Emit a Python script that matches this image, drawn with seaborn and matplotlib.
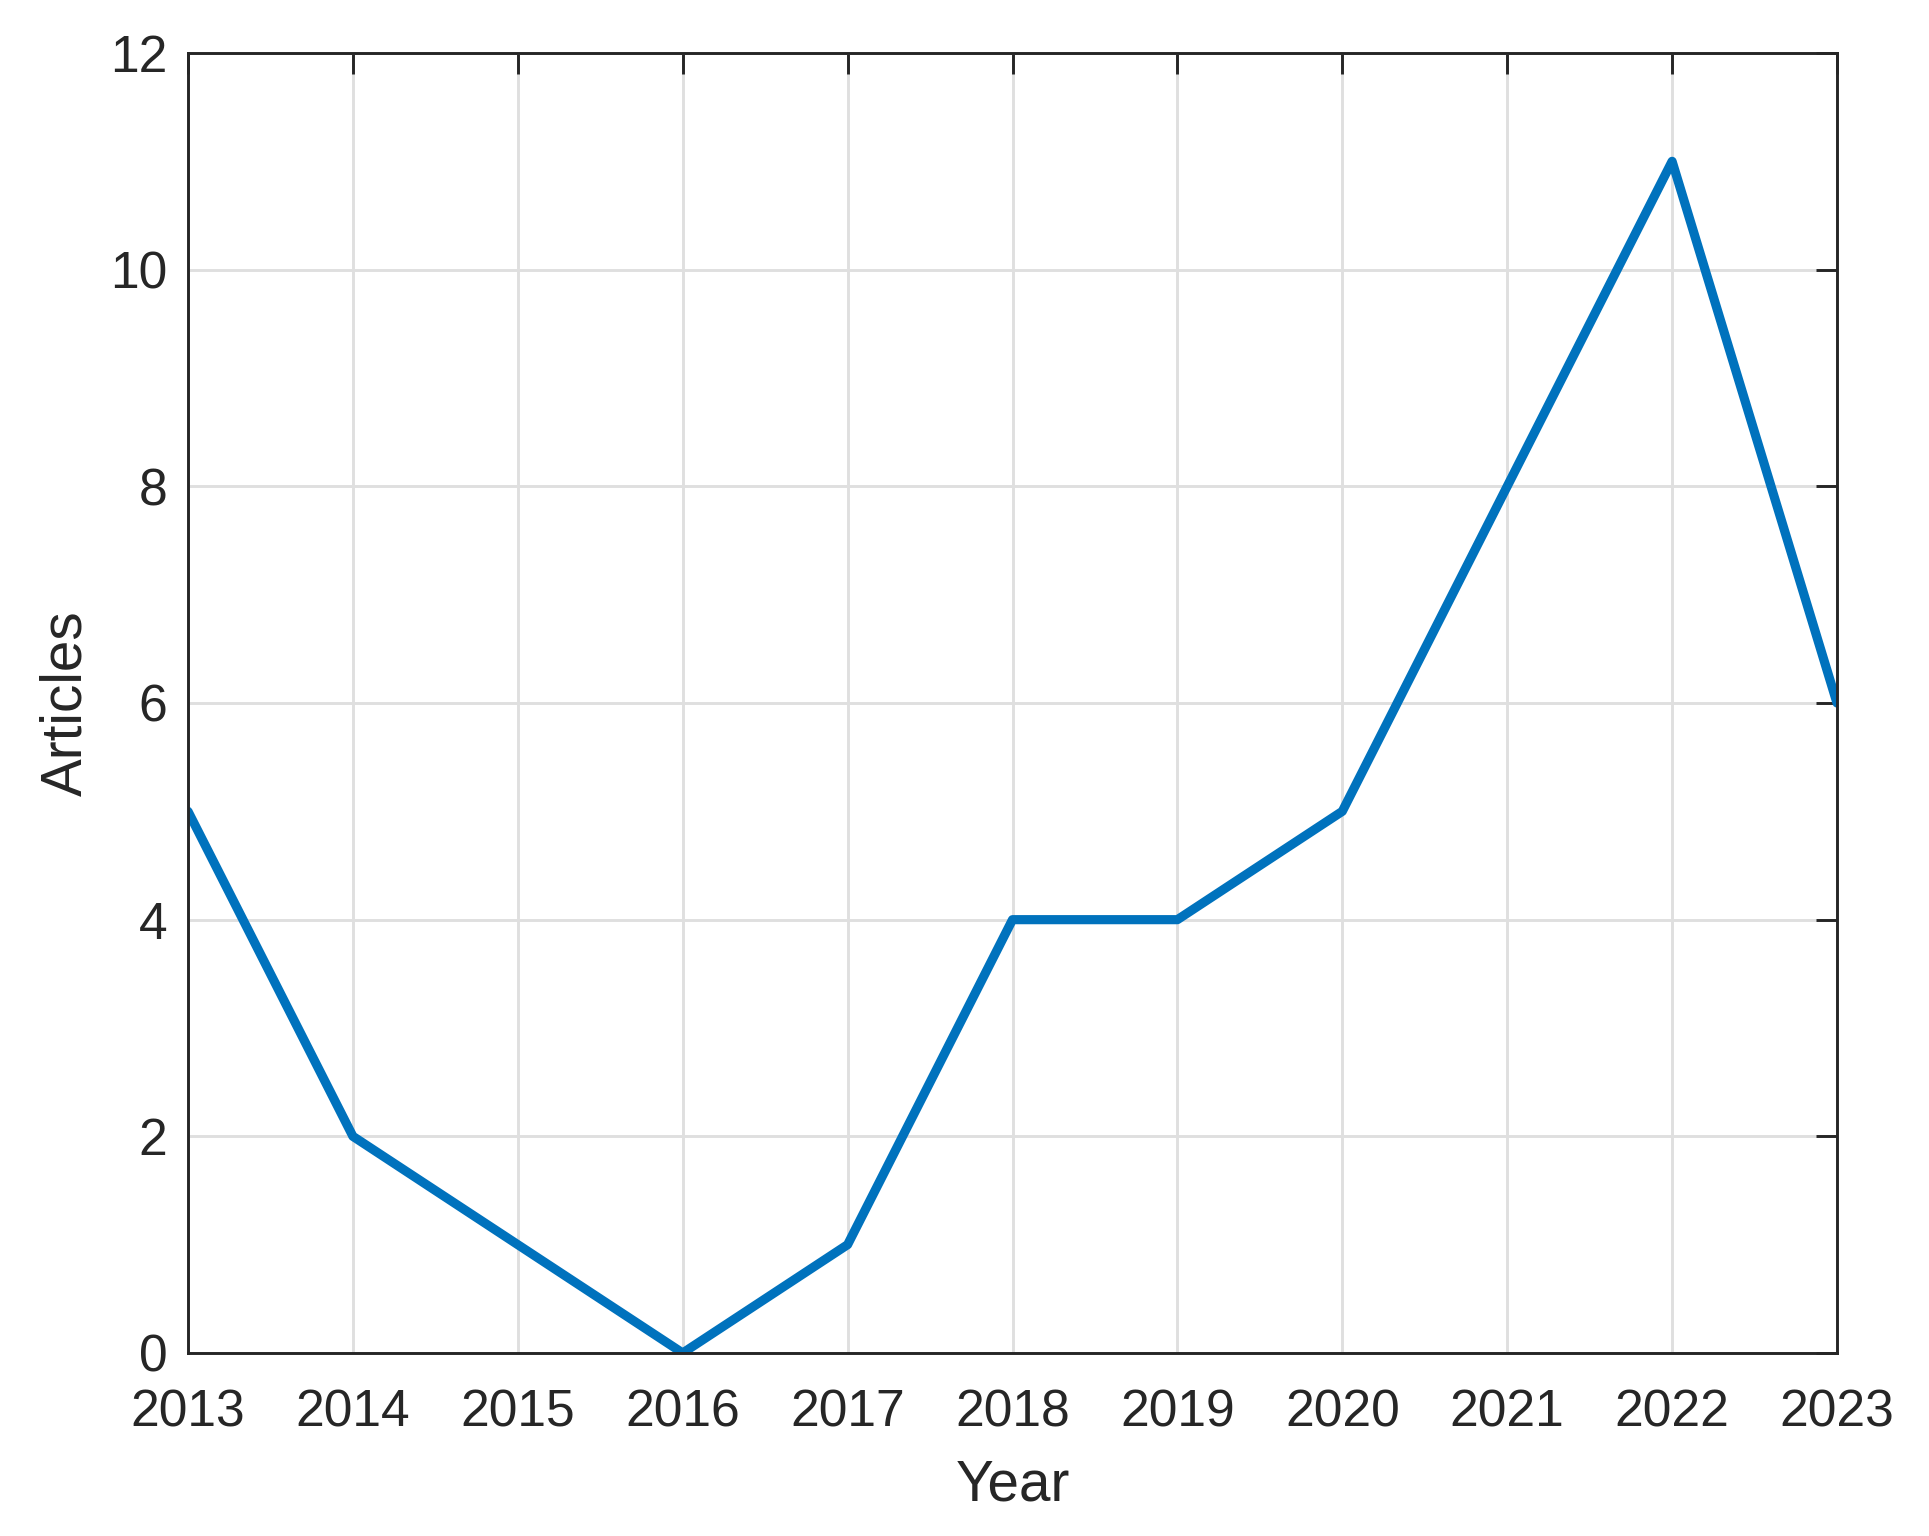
import numpy as np
import pandas as pd
import matplotlib
matplotlib.use("Agg")
import matplotlib.pyplot as plt
import seaborn as sns

# 每年文章数量
years = [2013, 2014, 2015, 2016, 2017, 2018, 2019, 2020, 2021, 2022, 2023]
articles = [5, 2, 1, 0, 1, 4, 4, 5, 8, 11, 6]
y_ticks = [0, 2, 4, 6, 8, 10, 12]

df = pd.DataFrame({"Year": years, "Articles": articles})

sns.set_style("white")
plt.rcParams["font.family"] = ["Liberation Sans", "DejaVu Sans"]
dark = "#262626"

fig = plt.figure(figsize=(1929 / 300, 1536 / 300), dpi=300)
ax = fig.add_axes([188 / 1929, 1 - 1353 / 1536, (1837 - 188) / 1929, (1353 - 53) / 1536])

sns.lineplot(data=df, x="Year", y="Articles", color="#0072BD", linewidth=2.2, ax=ax)

ax.set_xlim(2013, 2023)
ax.set_ylim(0, 12)
ax.set_xticks(years)
ax.set_yticks(y_ticks)
ax.grid(True, color="#dfdfdf", linewidth=0.7)
ax.set_axisbelow(True)

for s in ax.spines.values():
    s.set_color(dark)
    s.set_linewidth(0.7)
ax.tick_params(direction="in", length=5, width=0.7, colors=dark,
               top=True, right=True, labelsize=12.4)
ax.tick_params(axis="x", pad=8.5)
ax.tick_params(axis="y", pad=5)
ax.set_xlabel("Year", fontsize=13.6, color=dark, labelpad=5)
ax.set_ylabel("Articles", fontsize=13.6, color=dark, labelpad=4)

fig.savefig("out.png", dpi=300)
